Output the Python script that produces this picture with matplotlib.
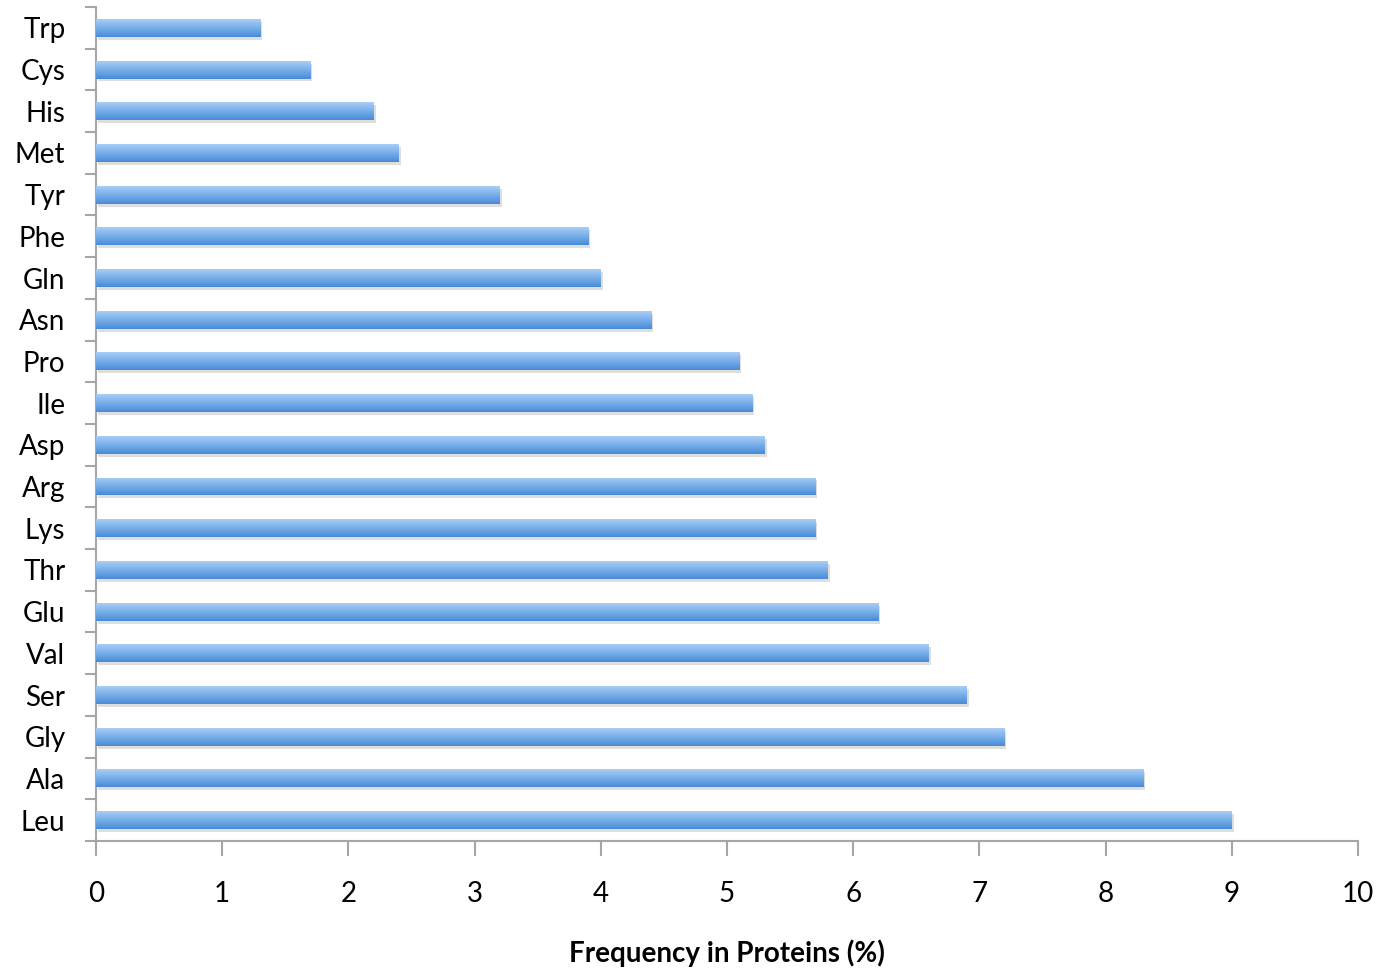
import matplotlib.pyplot as plt
import numpy as np
from matplotlib.colors import LinearSegmentedColormap

amino_acids = ["Leu", "Ala", "Gly", "Ser", "Val", "Glu", "Thr", "Lys", "Arg", "Asp",
               "Ile", "Pro", "Asn", "Gln", "Phe", "Tyr", "Met", "His", "Cys", "Trp"]
frequency = [9.0, 8.3, 7.2, 6.9, 6.6, 6.2, 5.8, 5.7, 5.7, 5.3,
             5.2, 5.1, 4.4, 4.0, 3.9, 3.2, 2.4, 2.2, 1.7, 1.3]
x_ticks = list(range(0, 11))

plt.rcParams['font.family'] = ['Lato', 'DejaVu Sans']

fig = plt.figure(figsize=(13.81, 9.72), dpi=100, facecolor='white')
ax = fig.add_axes([0.0695, 0.1348, 0.9138, 0.858])

y = np.arange(len(amino_acids))
h = 0.43
grey = '#a6a6a6'
fs = 20

# soft drop shadow
ax.barh(y - 0.07, frequency, height=h, left=0.015, color='#7f7f7f', alpha=0.25,
        linewidth=0, zorder=1)
bars = ax.barh(y, frequency, height=h, color='#6aa5e8', linewidth=0, zorder=2)

# vertical gradient on each bar, light on top, darker below
cmap = LinearSegmentedColormap.from_list('bar', ['#4a8ad6', '#76aee9', '#a9cdf6'])
grad = np.linspace(0, 1, 64).reshape(-1, 1)
for b in bars:
    x0, y0 = b.get_x(), b.get_y()
    im = ax.imshow(grad, cmap=cmap, aspect='auto', origin='lower',
                   extent=[x0, x0 + b.get_width(), y0, y0 + b.get_height()], zorder=3)
    im.set_clip_path(b)

ax.set_xlim(0, 10)
ax.set_ylim(-0.5, len(amino_acids) - 0.5)

ax.set_xticks(x_ticks)
ax.set_xticklabels([str(t) for t in x_ticks])
ax.set_yticks(y)
ax.set_yticklabels(amino_acids)
ax.set_yticks(np.arange(-0.5, len(amino_acids)), minor=True)

ax.tick_params(axis='y', which='major', length=0, pad=22, labelsize=fs)
ax.tick_params(axis='y', which='minor', length=8, width=1.5, color=grey, direction='out')
ax.tick_params(axis='x', which='major', length=11, width=1.5, color=grey,
               direction='out', pad=18, labelsize=fs)
for lbl in ax.get_yticklabels():
    lbl.set_verticalalignment('center_baseline')

for side in ['top', 'right']:
    ax.spines[side].set_visible(False)
for side in ['left', 'bottom']:
    ax.spines[side].set_color(grey)
    ax.spines[side].set_linewidth(1.5)

ax.set_xlabel("Frequency in Proteins (%)", fontsize=fs, fontweight='bold', labelpad=23)

fig.savefig("out.png", dpi=100, facecolor='white')
